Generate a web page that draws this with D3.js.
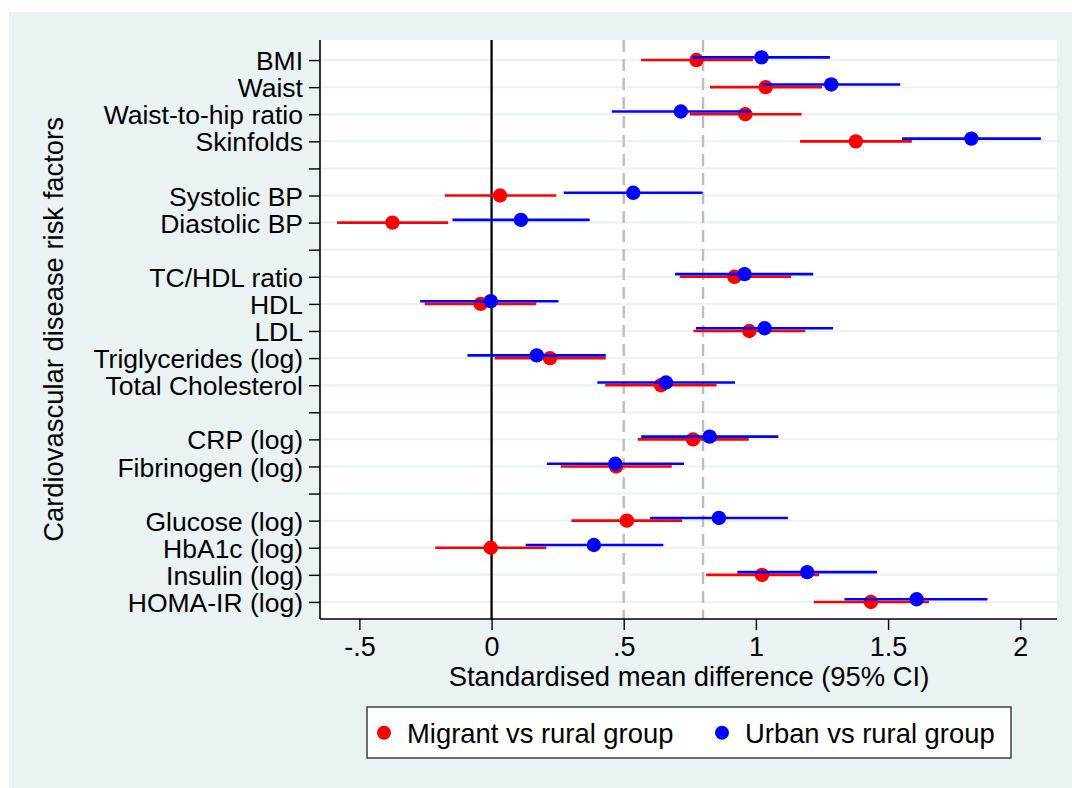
<!DOCTYPE html>
<html>
<head>
<meta charset="utf-8">
<script src="https://cdn.jsdelivr.net/npm/d3@7"></script>
<style>
  html, body { margin: 0; padding: 0; background: #ffffff; }
  svg text { font-family: "Liberation Sans", Arial, Helvetica, sans-serif; fill: #000; }
</style>
</head>
<body>
<svg id="chart" width="1072" height="788"></svg>
<script>
// Risk factor rows, top to bottom; empty strings are spacer rows between groups
const categories = [
  "BMI", "Waist", "Waist-to-hip ratio", "Skinfolds", "",
  "Systolic BP", "Diastolic BP", "",
  "TC/HDL ratio", "HDL", "LDL", "Triglycerides (log)", "Total Cholesterol", "",
  "CRP (log)", "Fibrinogen (log)", "",
  "Glucose (log)", "HbA1c (log)", "Insulin (log)", "HOMA-IR (log)"
];

// Migrant vs rural: standardised mean difference and 95% CI
const migrantEst = [0.775, 1.037, 0.960, 1.378, null, 0.032, -0.375, null, 0.919, -0.041, 0.975, 0.221, 0.641, null, 0.762, 0.471, null, 0.512, -0.003, 1.023, 1.435];
const migrantLo  = [0.566, 0.826, 0.750, 1.167, null, -0.177, -0.584, null, 0.712, -0.253, 0.764, 0.012, 0.430, null, 0.553, 0.262, null, 0.302, -0.213, 0.812, 1.219];
const migrantHi  = [0.989, 1.250, 1.173, 1.590, null, 0.245, -0.164, null, 1.133, 0.169, 1.187, 0.432, 0.851, null, 0.973, 0.682, null, 0.721, 0.207, 1.239, 1.655];

// Urban vs rural: standardised mean difference and 95% CI
const urbanEst = [1.021, 1.285, 0.716, 1.815, null, 0.536, 0.111, null, 0.957, -0.003, 1.033, 0.171, 0.660, null, 0.825, 0.468, null, 0.860, 0.387, 1.194, 1.608];
const urbanLo  = [0.758, 1.025, 0.455, 1.553, null, 0.273, -0.148, null, 0.694, -0.270, 0.773, -0.091, 0.400, null, 0.566, 0.209, null, 0.600, 0.129, 0.930, 1.335];
const urbanHi  = [1.280, 1.546, 0.980, 2.078, null, 0.798, 0.371, null, 1.217, 0.253, 1.292, 0.432, 0.921, null, 1.085, 0.728, null, 1.121, 0.650, 1.458, 1.876];

// X axis ticks and reference lines
const xTicks = [-0.5, 0, 0.5, 1, 1.5, 2];
const xTickLabels = ["-.5", "0", ".5", "1", "1.5", "2"];
const refLines = [0.5, 0.8];

const seriesNames = ["Migrant vs rural group", "Urban vs rural group"];
const seriesColors = ["#ff0000", "#0000ff"];

const svg = d3.select("#chart");
const W = 1072, H = 788;
const plot = { left: 320, right: 1057, top: 40, bottom: 619 };
const bg = "#eaf2f3";
const fontSize = 27.4;
const rowLabelSize = 26.5;
const fontFamily = '"Liberation Sans", Arial, sans-serif';

// outer graph region
svg.append("rect").attr("x", 9).attr("y", 12).attr("width", W - 9).attr("height", H - 12).attr("fill", bg);
// plot region
svg.append("rect").attr("x", plot.left).attr("y", plot.top)
  .attr("width", plot.right - plot.left).attr("height", plot.bottom - plot.top).attr("fill", "#ffffff");

const x = d3.scaleLinear().domain([-0.649, 2.139]).range([plot.left, plot.right]);
const rows = d3.range(1, categories.length + 1);
const y = d3.scaleLinear().domain([0.26, 21.63]).range([plot.top, plot.bottom]);

// horizontal grid at every row
svg.append("g").selectAll("line").data(rows).join("line")
  .attr("x1", plot.left).attr("x2", plot.right)
  .attr("y1", d => y(d)).attr("y2", d => y(d))
  .attr("stroke", bg).attr("stroke-width", 2);

// dashed reference lines
svg.append("g").selectAll("line").data(refLines).join("line")
  .attr("x1", d => x(d)).attr("x2", d => x(d))
  .attr("y1", plot.top).attr("y2", plot.bottom)
  .attr("stroke", "#bdbdbd").attr("stroke-width", 2.4)
  .attr("stroke-dasharray", "12,7");

// zero line
svg.append("line").attr("x1", x(0)).attr("x2", x(0))
  .attr("y1", plot.top).attr("y2", plot.bottom)
  .attr("stroke", "#000").attr("stroke-width", 2.3);

// series: CI line then point; urban drawn on top, nudged slightly upward
const series = [
  { est: migrantEst, lo: migrantLo, hi: migrantHi, color: seriesColors[0], nudge: 0 },
  { est: urbanEst, lo: urbanLo, hi: urbanHi, color: seriesColors[1], nudge: -0.1 }
];
series.forEach(s => {
  const pts = rows.map((r, i) => ({ r: r + s.nudge, est: s.est[i], lo: s.lo[i], hi: s.hi[i] }))
    .filter(d => d.est !== null);
  const g = svg.append("g");
  g.selectAll("line").data(pts).join("line")
    .attr("x1", d => x(d.lo)).attr("x2", d => x(d.hi))
    .attr("y1", d => y(d.r)).attr("y2", d => y(d.r))
    .attr("stroke", s.color).attr("stroke-width", 2.6);
  g.selectAll("circle").data(pts).join("circle")
    .attr("cx", d => x(d.est)).attr("cy", d => y(d.r)).attr("r", 7.2)
    .attr("fill", s.color);
});

// axes
const yAxis = d3.axisLeft(y).tickValues(rows).tickFormat((d, i) => categories[i])
  .tickSize(11).tickPadding(6);
const gy = svg.append("g").attr("transform", `translate(${plot.left},0)`).call(yAxis);
gy.select(".domain").attr("d", `M0,${plot.top}V${plot.bottom}`).attr("stroke", "#000").attr("stroke-width", 1.6);
gy.selectAll(".tick line").attr("stroke", "#000").attr("stroke-width", 1.4);
gy.selectAll(".tick text").attr("font-size", rowLabelSize).attr("dy", "0.36em")
  .style("font-family", fontFamily).attr("fill", "#000");

const xAxis = d3.axisBottom(x).tickValues(xTicks).tickFormat((d, i) => xTickLabels[i])
  .tickSize(11).tickPadding(7);
const gx = svg.append("g").attr("transform", `translate(0,${plot.bottom})`).call(xAxis);
gx.select(".domain").attr("d", `M${plot.left},0H${plot.right}`).attr("stroke", "#000").attr("stroke-width", 1.6);
gx.selectAll(".tick line").attr("stroke", "#000").attr("stroke-width", 1.4);
gx.selectAll(".tick text").attr("font-size", 27)
  .style("font-family", fontFamily).attr("fill", "#000");

// axis titles
svg.append("text").attr("x", (plot.left + plot.right) / 2 + 0.5).attr("y", 686)
  .attr("text-anchor", "middle").attr("font-size", fontSize)
  .text("Standardised mean difference (95% CI)");
svg.append("text").attr("transform", `translate(63,${(plot.top + plot.bottom) / 2}) rotate(-90)`)
  .attr("text-anchor", "middle").attr("font-size", fontSize)
  .text("Cardiovascular disease risk factors");

// legend
const lg = svg.append("g");
lg.append("rect").attr("x", 367).attr("y", 707).attr("width", 644).attr("height", 51)
  .attr("fill", "#fff").attr("stroke", "#333").attr("stroke-width", 1.4);
const legendX = [384, 722];
seriesNames.forEach((name, i) => {
  lg.append("circle").attr("cx", legendX[i]).attr("cy", 732.7).attr("r", 7).attr("fill", seriesColors[i]);
  lg.append("text").attr("x", legendX[i] + 23).attr("y", 742.5).attr("font-size", fontSize).text(name);
});
</script>
</body>
</html>
